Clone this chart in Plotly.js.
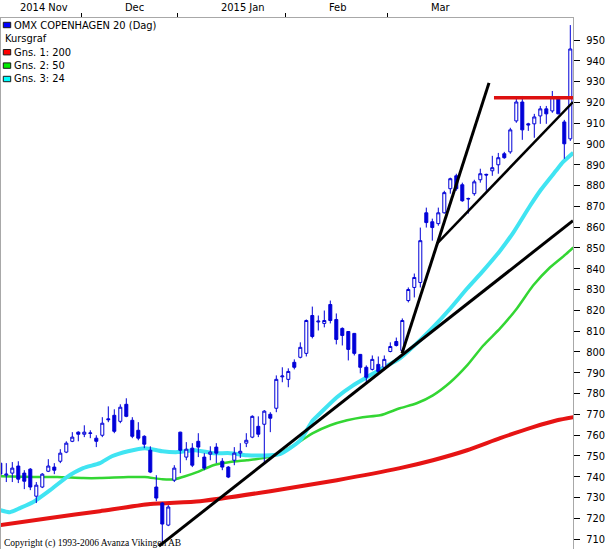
<!DOCTYPE html>
<html>
<head>
<meta charset="utf-8">
<script src="https://cdn.plot.ly/plotly-3.0.1.min.js"></script>
<style>
  html, body { margin: 0; padding: 0; background: #fff; }
  #chart { width: 609px; height: 549px; }
</style>
</head>
<body>
<div id="chart"></div>
<script>
// dagliga kurser, index 0 = första synliga dagen
const openP = [746.5, 740.7, 741.7, 745.1, 741.7, 743.6, 730.6, 735.0, 742.6, 744.6,
  747.4, 751.8, 757.0, 761.4, 760.4, 760.8, 758.5, 759.9, 767.8, 769.5,
  766.6, 774.8, 767.1, 762.3, 759.4, 752.7, 735.0, 727.3, 716.7, 738.3,
  761.4, 749.4, 753.7, 757.0, 749.4, 750.8, 754.2, 747.4, 744.6, 747.9,
  751.3, 756.1, 759.0, 764.2, 765.2, 770.0, 772.9, 788.0, 786.8, 795.0,
  797.4, 799.3, 817.5, 814.4, 813.7, 822.8, 815.6, 811.3, 809.8, 808.9,
  798.8, 792.6, 791.6, 794.0, 792.6, 800.2, 805.0, 800.7, 824.7, 831.0,
  833.4, 866.9, 862.6, 861.7, 866.9, 878.5, 884.7, 880.4, 873.8, 876.1,
  882.8, 885.4, 887.1, 890.0, 895.3, 896.2, 911.1, 920.2, 909.7, 909.7,
  913.5, 916.9, 915.9, 921.7, 910.6, 902.5];
const highP = [747.4, 746.5, 747.0, 747.4, 743.1, 744.1, 737.4, 741.7, 748.4, 746.5,
  753.2, 757.0, 761.4, 761.8, 764.7, 762.3, 759.9, 768.6, 773.8, 772.4,
  774.8, 777.7, 768.6, 766.2, 759.9, 754.6, 740.7, 727.8, 726.3, 745.5,
  761.6, 756.6, 756.1, 760.9, 751.3, 754.6, 756.1, 748.9, 745.1, 754.2,
  756.1, 760.9, 769.5, 769.0, 772.0, 771.0, 788.7, 792.6, 792.1, 796.4,
  804.6, 815.6, 821.8, 817.5, 819.9, 824.7, 818.5, 811.8, 810.0, 809.1,
  799.0, 793.5, 798.3, 797.8, 798.3, 804.6, 806.9, 816.1, 831.0, 837.7,
  859.8, 869.4, 864.1, 869.4, 877.5, 883.8, 885.7, 881.4, 874.2, 882.8,
  888.1, 885.7, 894.3, 895.7, 896.2, 907.8, 921.7, 923.1, 910.2, 914.5,
  918.3, 918.3, 925.5, 923.1, 911.6, 957.2];
const lowP = [740.2, 737.4, 737.4, 736.9, 734.0, 733.5, 727.3, 734.5, 742.2, 741.2,
  746.5, 751.3, 756.6, 757.0, 759.0, 758.5, 754.2, 759.0, 766.2, 760.9,
  765.7, 768.6, 758.5, 757.5, 753.7, 741.7, 728.2, 708.1, 716.2, 737.4,
  741.7, 747.9, 744.6, 749.4, 743.1, 747.9, 746.5, 743.1, 739.3, 745.5,
  749.0, 754.2, 758.5, 759.0, 746.5, 761.4, 771.0, 785.4, 783.0, 791.6,
  796.9, 797.8, 806.5, 810.3, 811.8, 813.7, 803.6, 803.1, 795.9, 798.3,
  789.7, 784.9, 791.1, 789.7, 792.1, 799.8, 802.6, 799.8, 823.8, 826.2,
  831.0, 859.8, 853.5, 860.7, 866.5, 876.1, 877.5, 872.2, 866.5, 875.1,
  881.4, 877.5, 884.7, 885.7, 892.9, 895.3, 910.2, 902.0, 906.3, 903.0,
  909.7, 909.7, 915.0, 914.3, 892.9, 901.5];
const closeP = [741.2, 741.2, 744.1, 738.8, 737.8, 735.0, 735.9, 741.2, 745.1, 743.1,
  751.3, 756.1, 759.0, 760.4, 761.4, 761.0, 757.0, 765.7, 767.4, 761.8,
  773.4, 769.0, 759.4, 758.5, 755.6, 742.2, 729.7, 717.2, 725.4, 744.1,
  752.7, 753.2, 745.5, 754.2, 744.1, 751.8, 751.3, 744.6, 739.8, 751.3,
  752.2, 757.5, 769.0, 760.4, 771.5, 768.1, 786.8, 788.4, 790.6, 792.6,
  802.2, 815.1, 807.4, 814.8, 815.1, 815.1, 806.0, 807.9, 801.2, 799.3,
  792.6, 787.8, 796.4, 790.6, 796.4, 802.6, 803.1, 815.1, 830.0, 835.8,
  853.5, 862.2, 859.8, 866.9, 876.6, 883.3, 878.5, 872.7, 873.6, 881.8,
  885.7, 885.1, 888.6, 893.4, 893.4, 906.8, 920.2, 906.8, 909.2, 913.0,
  916.9, 914.5, 922.6, 914.5, 900.1, 945.7];
const dayIdx = openP.map((_, i) => i);

// glidande medelvärden, avlästa vid vissa dagar
const ma200Day = [0, 8.3, 16.6, 25.0, 33.3, 45.0, 56.1, 66.6, 72.1, 77.8, 83.3, 88.8, 92.8, 95.5];
const ma200 = [716.7, 720.1, 723.4, 726.8, 728.2, 733.0, 738.3, 744.1, 747.9, 752.7, 758.5, 763.8, 767.1, 768.6];

const ma50Day = [0, 5.5, 9.5, 13.8, 16.6, 21.3, 24.1, 27.0, 29.1, 30.8, 32.8, 35.5, 38.3, 41.1,
  43.8, 46.6, 49.5, 52.1, 55.0, 57.8, 60.4, 63.3, 66.6, 69.4, 72.1, 75.0, 77.8, 80.5,
  83.3, 86.1, 88.8, 91.6, 94.4, 95.5];
const ma50 = [740.2, 739.8, 739.8, 739.3, 739.3, 739.8, 739.8, 738.8, 738.8, 740.2, 742.2, 745.5, 747.0, 747.9,
  748.9, 751.3, 756.1, 760.9, 764.7, 767.1, 768.6, 769.5, 772.9, 775.3, 779.1, 785.4, 793.5, 803.1,
  811.3, 820.9, 831.9, 840.6, 847.3, 850.2];

const ma24Day = [0, 1.6, 3.3, 5.5, 8.3, 11.1, 13.8, 16.6, 18.6, 21.3, 24.1, 27.0, 29.6, 32.5,
  35.5, 38.3, 41.1, 45.0, 46.6, 48.3, 50.0, 52.1, 53.3, 56.1, 58.8, 61.1, 63.3, 66.6,
  69.4, 72.1, 75.0, 77.8, 80.5, 83.3, 85.5, 88.3, 90.1, 92.6, 93.8, 95.5];
const ma24 = [723.9, 722.9, 724.9, 727.8, 733.5, 739.8, 744.1, 746.5, 749.8, 752.2, 753.7, 752.2, 751.8, 752.7,
  751.3, 751.3, 750.3, 750.3, 750.8, 753.7, 757.5, 767.1, 770.5, 778.2, 783.9, 787.8, 791.6, 796.9,
  804.1, 811.8, 820.9, 830.5, 839.1, 848.7, 857.4, 870.3, 878.0, 887.1, 891.4, 895.8];

// trendlinjer: [startdag, slutdag] och [startkurs, slutkurs]
const trendLongDay = [26.45, 95.45];   const trendLong = [706.6, 863.1];
const trendSteepDay = [66.95, 81.45];  const trendSteep = [799.3, 929.4];
const trendUpperDay = [72.78, 95.45];  const trendUpper = [852.1, 920.2];
const resistDay = [82.28, 95.45];      const resist = [922.2, 922.2];

// månader: första handelsdag (nov började före fönstret)
const monthLabels = ['2014 Nov', 'Dec', '2015 Jan', 'Feb', 'Mar'];
const monthFirstDay = [-3.5, 14, 30, 48, 65];

const yTicks = [];
for (let v = 710; v <= 950; v += 10) yTicks.push(v);

const narrow = 'Liberation Sans Narrow, DejaVu Sans Condensed, Liberation Sans, Arial, sans-serif';
const xRange = [0.117, 95.45];
const yRange = [705.2, 960.6];

// pixel -> paper
const px2x = px => (px - 1) / 572;
const py2y = py => (549 - py) / 531;

function maLine(x, y, color, width) {
    return {
        type: 'scatter', mode: 'lines', x: x, y: y,
        line: { color: color, width: width, shape: 'spline', smoothing: 0.6 },
        hoverinfo: 'skip', showlegend: false, cliponaxis: true
    };
}
function trendLine(x, y, color, width) {
    return {
        type: 'scatter', mode: 'lines', x: x, y: y,
        xaxis: 'x2', yaxis: 'y2',
        line: { color: color, width: width },
        hoverinfo: 'skip', showlegend: false
    };
}

const candleBlue = '#0000d8';
const traces = [
    maLine(ma200Day, ma200, '#e61414', 4),
    maLine(ma50Day, ma50, '#33d633', 2.5),
    maLine(ma24Day, ma24, '#40e4f2', 4),
    {
        type: 'candlestick',
        x: dayIdx, open: openP, high: highP, low: lowP, close: closeP,
        xaxis: 'x2', yaxis: 'y2',
        increasing: { line: { color: candleBlue, width: 1 }, fillcolor: '#ffffff' },
        decreasing: { line: { color: candleBlue, width: 1 }, fillcolor: candleBlue },
        whiskerwidth: 0,
        hoverinfo: 'skip', showlegend: false
    },
    trendLine(trendLongDay, trendLong, '#000000', 3),
    trendLine(trendSteepDay, trendSteep, '#000000', 3),
    trendLine(trendUpperDay, trendUpper, '#000000', 2.5),
    trendLine(resistDay, resist, '#dd1010', 3.5)
];

// månadsetiketter
const annotations = monthLabels.map((m, i) => ({
    text: m, xref: 'x', yref: 'paper',
    x: monthFirstDay[i] - 0.5 + 6.9, y: py2y(7.5),
    xanchor: 'left', yanchor: 'middle', showarrow: false,
    font: { family: narrow, size: 11, color: '#000' }
}));

// legend
const legendRows = [
    { text: 'OMX COPENHAGEN 20 (Dag)', color: '#0000ff', py: 25 },
    { text: 'Kursgraf', color: null, py: 38.8 },
    { text: 'Gns. 1: 200', color: '#ff0000', py: 52.2 },
    { text: 'Gns. 2: 50', color: '#00ee00', py: 65.6 },
    { text: 'Gns. 3: 24', color: '#00ffff', py: 79 }
];
const shapes = [];
legendRows.forEach(r => {
    annotations.push({
        text: r.text, xref: 'paper', yref: 'paper',
        x: px2x(r.color ? 11.5 : 3), y: py2y(r.py),
        xanchor: 'left', yanchor: 'middle', showarrow: false,
        font: { family: narrow, size: 11, color: '#000' }
    });
    if (r.color) {
        shapes.push({
            type: 'rect', xref: 'paper', yref: 'paper',
            x0: px2x(3.3), x1: px2x(10.7), y0: py2y(r.py + 2.7), y1: py2y(r.py - 2.7),
            fillcolor: r.color, line: { color: '#1a1a1a', width: 1 }
        });
    }
});
annotations.push({
    text: 'Copyright (c) 1993-2006 Avanza Vikingen AB', xref: 'paper', yref: 'paper',
    x: px2x(1.5), y: py2y(543), xanchor: 'left', yanchor: 'middle', showarrow: false,
    font: { family: 'Liberation Serif, Times New Roman, serif', size: 9.5, color: '#000' }
});

const layout = {
    width: 609,
    height: 549,
    margin: { l: 1, r: 36, t: 18, b: 0, autoexpand: false },
    paper_bgcolor: '#ffffff',
    plot_bgcolor: '#ffffff',
    showlegend: false,
    boxgap: 0.28,
    font: { family: narrow, size: 11, color: '#000' },
    xaxis: {
        range: xRange, side: 'top',
        tickmode: 'array', tickvals: monthFirstDay.slice(1).map(d => d - 0.5),
        ticks: 'outside', ticklen: 4, tickwidth: 1, tickcolor: '#000',
        showticklabels: false, showgrid: false, zeroline: false,
        showline: true, mirror: true, linecolor: '#a8a8a8', linewidth: 1,
        rangeslider: { visible: false }, fixedrange: true
    },
    yaxis: {
        range: yRange, side: 'right',
        tickmode: 'array', tickvals: yTicks,
        ticks: 'outside', ticklen: 6, tickwidth: 1, tickcolor: '#000',
        ticklabelstandoff: 4,
        tickfont: { family: narrow, size: 11, color: '#000' },
        showgrid: false, zeroline: false,
        showline: true, mirror: true, linecolor: '#a8a8a8', linewidth: 1,
        fixedrange: true
    },
    xaxis2: {
        overlaying: 'x', range: xRange, visible: false,
        rangeslider: { visible: false }, fixedrange: true
    },
    yaxis2: {
        overlaying: 'y', range: yRange, visible: false, fixedrange: true
    },
    annotations: annotations,
    shapes: shapes
};

Plotly.newPlot('chart', traces, layout, { displayModeBar: false, staticPlot: true });
</script>
</body>
</html>
